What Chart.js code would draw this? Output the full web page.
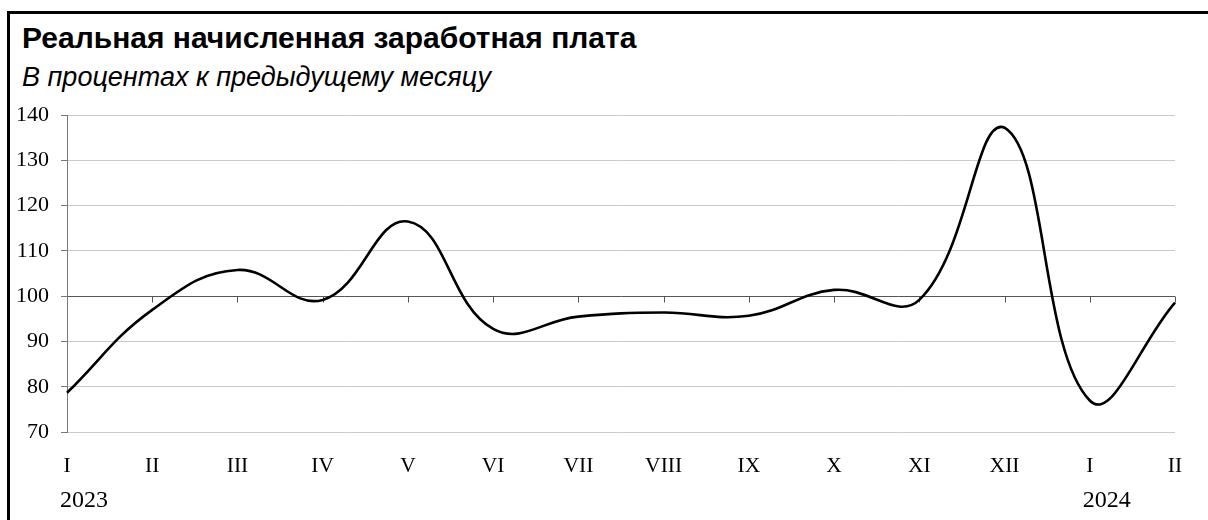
<!DOCTYPE html>
<html>
<head>
<meta charset="utf-8">
<script src="https://cdn.jsdelivr.net/npm/chart.js@4"></script>
<style>
  body { margin: 0; background: #fff; }
  #wrap { position: relative; width: 1208px; height: 520px; overflow: hidden; }
  #frame { position: absolute; left: 7px; top: 11px; width: 1300px; height: 600px;
           border-top: 3px solid #000; border-left: 3px solid #000; }
  #title { position: absolute; left: 22px; top: 21px; color: #000;
           font: bold 30px 'Liberation Sans', Arial, sans-serif; white-space: nowrap; }
  #subtitle { position: absolute; left: 22px; top: 62px; color: #000;
              font: italic 27px 'Liberation Sans', Arial, sans-serif; white-space: nowrap; }
  canvas { position: absolute; left: 0; top: 0; }
</style>
</head>
<body>
<div id="wrap">
  <div id="frame"></div>
  <div id="title">Реальная начисленная заработная плата</div>
  <div id="subtitle">В процентах к предыдущему месяцу</div>
  <canvas id="chart" width="1208" height="520"></canvas>
</div>
<script>
// months (Roman numerals) and the year row under them
const months = ['I', 'II', 'III', 'IV', 'V', 'VI', 'VII', 'VIII', 'IX', 'X', 'XI', 'XII', 'I', 'II'];
const years = ['2023', '', '', '', '', '', '', '', '', '', '', '', '2024', ''];
// real wages, % to previous month
const wages = [78.7, 97.0, 105.8, 99.2, 116.5, 92.8, 95.5, 96.4, 95.7, 101.4, 99.2, 137.2, 77.0, 98.6];
const yMin = 70, yMax = 140, yStep = 10;
const baseLine = 100;

const serif = "'Liberation Serif', 'Times New Roman', serif";

// small ticks hanging from the 100 line + year labels
const extras = {
    id: 'extras',
    beforeDatasetsDraw(chart) {
        const { ctx, scales: { x, y } } = chart;
        const y0 = Math.round(y.getPixelForValue(baseLine)) + 0.5;
        ctx.save();
        ctx.strokeStyle = '#555';
        ctx.lineWidth = 1;
        ctx.beginPath();
        months.forEach((m, i) => {
            if (i === 0) return;
            const px = Math.round(x.getPixelForValue(i)) + 0.5;
            ctx.moveTo(px, y0);
            ctx.lineTo(px, y0 + 6);
        });
        ctx.stroke();
        ctx.restore();
    },
    afterDraw(chart) {
        const { ctx, scales: { x } } = chart;
        ctx.save();
        ctx.fillStyle = '#000';
        ctx.font = '24px ' + serif;
        ctx.textAlign = 'center';
        ctx.textBaseline = 'middle';
        years.forEach((yr, i) => {
            if (!yr) return;
            ctx.fillText(yr, x.getPixelForValue(i) + 17, 501);
        });
        ctx.restore();
    }
};

new Chart(document.getElementById('chart'), {
    type: 'line',
    data: {
        labels: months,
        datasets: [{
            data: wages,
            borderColor: '#000',
            borderWidth: 2.6,
            tension: 0.42,
            pointRadius: 0,
            fill: false
        }]
    },
    options: {
        responsive: false,
        animation: false,
        layout: { padding: { left: 4, right: 33, top: 115, bottom: 20 } },
        plugins: {
            legend: { display: false },
            tooltip: { enabled: false }
        },
        scales: {
            x: {
                grid: { display: false, drawTicks: false },
                border: { display: false },
                ticks: {
                    color: '#000',
                    font: { family: serif, size: 21.5 },
                    padding: 21,
                    maxRotation: 0,
                    autoSkip: false
                }
            },
            y: {
                min: yMin,
                max: yMax,
                ticks: {
                    stepSize: yStep,
                    color: '#000',
                    font: { family: serif, size: 22 },
                    padding: 12
                },
                grid: {
                    color: (c) => c.tick && c.tick.value === baseLine ? '#555' : '#cacaca',
                    tickColor: '#777',
                    tickLength: 6
                },
                border: { display: true, color: '#777', width: 1 }
            }
        }
    },
    plugins: [extras]
});
</script>
</body>
</html>
